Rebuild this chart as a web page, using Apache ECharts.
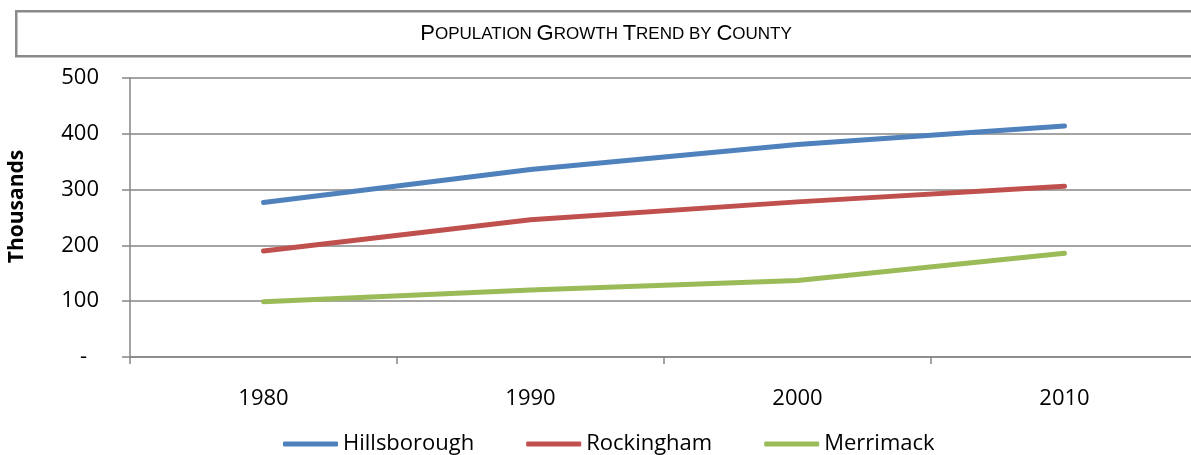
<!DOCTYPE html>
<html>
<head>
<meta charset="utf-8">
<script src="https://cdn.jsdelivr.net/npm/echarts@6/dist/echarts.min.js"></script>
<style>
html,body{margin:0;padding:0;background:#fff;}
#c{width:1191px;height:455px;}
</style>
</head>
<body>
<div id="c"></div>
<script>
const categories = ['1980', '1990', '2000', '2010'];
const hillsborough = [277, 336, 381, 414];
const rockingham = [190, 246, 278, 306];
const merrimack = [99, 120, 137, 186];
const yTicks = [0, 100, 200, 300, 400, 500];
const seriesNames = ['Hillsborough', 'Rockingham', 'Merrimack'];
const colors = ['#4F81BD', '#C0504D', '#9BBB59'];

const FONT = '"Open Sans", "Noto Sans", sans-serif';
const TFONT = '"Liberation Sans", Arial, sans-serif';
const chart = echarts.init(document.getElementById('c'), null, {renderer: 'canvas'});

function mkSeries(name, data, color) {
  return {
    name: name, type: 'line', data: data,
    symbol: 'none', showSymbol: false, smooth: false,
    lineStyle: {color: color, width: 5, cap: 'round', join: 'round'},
    itemStyle: {color: color}
  };
}

chart.setOption({
  animation: false,
  backgroundColor: '#fff',
  title: {
    text: '{b|P}{s|OPULATION }{b|G}{s|ROWTH }{b|T}{s|REND BY }{b|C}{s|OUNTY}',
    left: 606, top: 21, textAlign: 'center', padding: 0,
    textStyle: {
      fontWeight: 'normal',
      rich: {
        b: {fontFamily: TFONT, fontSize: 22, fontWeight: 'normal', color: '#000', lineHeight: 26},
        s: {fontFamily: TFONT, fontSize: 17, fontWeight: 'normal', color: '#000', lineHeight: 26}
      }
    }
  },
  graphic: [{
    type: 'rect', left: 15, top: 10, z: -1,
    shape: {width: 1200, height: 45},
    style: {fill: '#fff', stroke: '#8a8a8a', lineWidth: 2.5}
  }],
  grid: {left: 130, width: 1068, top: 78, height: 279, containLabel: false, outerBoundsMode: 'none'},
  legend: {
    left: 278, top: 428,
    icon: 'roundRect', itemWidth: 55, itemHeight: 5, itemGap: 52,
    textStyle: {fontFamily: FONT, fontSize: 22, color: '#000', padding: [0, 0, 0, 0]},
    data: seriesNames
  },
  xAxis: {
    type: 'category', data: categories, boundaryGap: true,
    axisLine: {lineStyle: {color: '#868686', width: 1.5}},
    axisTick: {show: true, length: 7, alignWithLabel: false, lineStyle: {color: '#868686', width: 1.5}},
    axisLabel: {fontFamily: FONT, fontSize: 22, color: '#000', margin: 31},
    splitLine: {show: false}
  },
  yAxis: {
    type: 'value', min: yTicks[0], max: yTicks[yTicks.length - 1], interval: 100,
    name: 'Thousands', nameLocation: 'middle', nameGap: 102, nameRotate: 90,
    nameTextStyle: {fontFamily: FONT, fontSize: 21, fontWeight: 'bold', color: '#000', padding: [0, 0, 0, 22]},
    axisLine: {show: true, lineStyle: {color: '#868686', width: 1.5}},
    axisTick: {show: true, length: 8, lineStyle: {color: '#868686', width: 1.5}},
    axisLabel: {
      fontFamily: FONT, fontSize: 22, color: '#000', margin: 31,
      formatter: function (v) { return v === 0 ? '{d|-}' : String(v); },
      rich: {d: {fontFamily: FONT, fontSize: 22, color: '#000', padding: [0, 12, 0, 0]}}
    },
    splitLine: {show: true, lineStyle: {color: '#868686', width: 1.5}}
  },
  series: [
    mkSeries(seriesNames[0], hillsborough, colors[0]),
    mkSeries(seriesNames[1], rockingham, colors[1]),
    mkSeries(seriesNames[2], merrimack, colors[2])
  ]
});
</script>
</body>
</html>
